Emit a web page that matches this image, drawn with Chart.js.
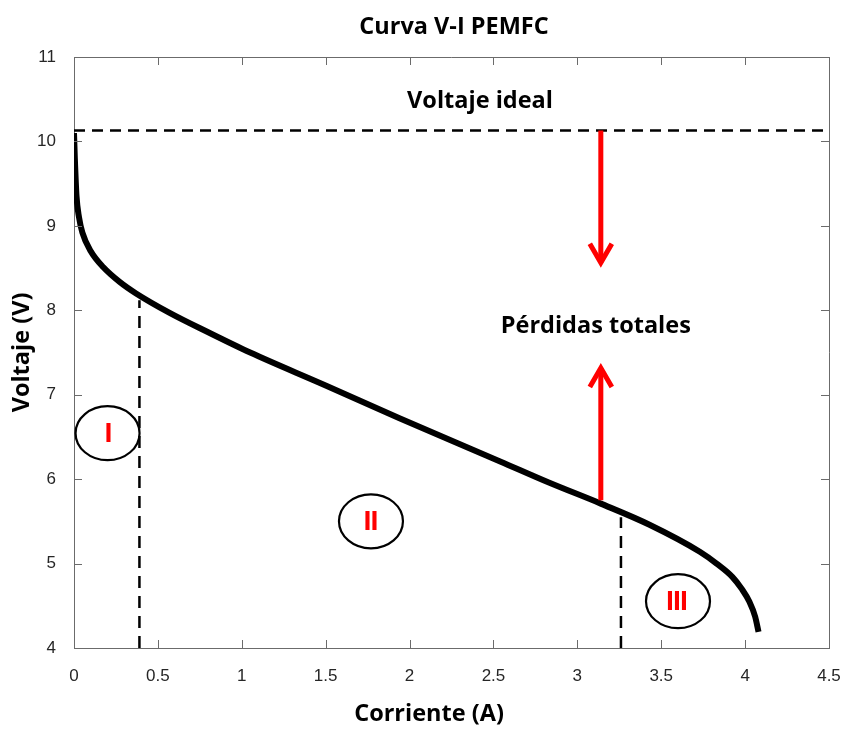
<!DOCTYPE html>
<html>
<head>
<meta charset="utf-8">
<script src="https://cdn.jsdelivr.net/npm/chart.js@4.4.1/dist/chart.umd.min.js"></script>
<style>
  html, body { margin: 0; padding: 0; background: #fff; }
  canvas { display: block; }
</style>
</head>
<body>
<canvas id="grafico-vi" width="846" height="729"></canvas>
<script>
// Curva V-I de la PEMFC
const corriente = [0, 0.005, 0.015, 0.03, 0.05, 0.1, 0.175, 0.27, 0.37, 0.57, 0.8, 1.05, 1.5, 1.94, 2.54, 2.83, 3.14, 3.43, 3.73, 3.83, 3.925, 3.98, 4.025, 4.06, 4.08];
const voltaje   = [10.1, 9.8, 9.35, 9.1, 8.92, 8.7, 8.51, 8.34, 8.2, 7.97, 7.74, 7.5, 7.11, 6.72, 6.21, 5.96, 5.71, 5.46, 5.14, 5.0, 4.84, 4.7, 4.55, 4.37, 4.19];

const ticksX = [0, 0.5, 1, 1.5, 2, 2.5, 3, 3.5, 4, 4.5];
const ticksY = [4, 5, 6, 7, 8, 9, 10, 11];

const voltajeIdeal = 10.13;
// limites de las regiones I / II / III
const limiteX = [0.39, 3.26];
const limiteTope = [8.12, 5.55];

// flechas de perdidas totales
const flechaX = 3.14;
const flechaBajaFin = 8.54;
const flechaSubeInicio = 5.75;
const flechaSubeFin = 7.34;

// regiones marcadas con elipses
const regiones = ['I', 'II', 'III'];
const regionX = [0.20, 1.77, 3.60];
const regionY = [6.545, 5.50, 4.555];

const textos = ['Voltaje ideal', 'Pérdidas totales'];
const textoX = [2.42, 3.11];
const textoY = [10.48, 7.81];

const puntos = corriente.map((c, i) => ({ x: c, y: voltaje[i] }));

function linea(x0, y0, x1, y1) {
    return [{ x: x0, y: y0 }, { x: x1, y: y1 }];
}

const fuenteTexto = '"Open Sans", "Noto Sans", sans-serif';

const anotaciones = {
    id: 'anotaciones',
    afterDraw(chart) {
        const { ctx, chartArea: a, scales: { x, y } } = chart;
        ctx.save();

        // caja y marcas hacia dentro (estilo MATLAB)
        ctx.strokeStyle = '#6b6b6b';
        ctx.lineWidth = 1;
        ctx.beginPath();
        ctx.moveTo(a.left, a.top + 0.5);
        ctx.lineTo(a.right + 0.5, a.top + 0.5);
        ctx.lineTo(a.right + 0.5, a.bottom);
        ctx.stroke();
        ctx.beginPath();
        ticksX.forEach(v => {
            const px = Math.round(x.getPixelForValue(v)) + 0.5;
            ctx.moveTo(px, a.bottom); ctx.lineTo(px, a.bottom - 8);
            ctx.moveTo(px, a.top); ctx.lineTo(px, a.top + 8);
        });
        ticksY.forEach(v => {
            const py = Math.round(y.getPixelForValue(v)) + 0.5;
            ctx.moveTo(a.left, py); ctx.lineTo(a.left + 8, py);
            ctx.moveTo(a.right, py); ctx.lineTo(a.right - 8, py);
        });
        ctx.stroke();

        // flechas rojas
        const fx = x.getPixelForValue(flechaX);
        const yIdeal = y.getPixelForValue(voltajeIdeal);
        const yBaja = y.getPixelForValue(flechaBajaFin);
        const ySube0 = y.getPixelForValue(flechaSubeInicio);
        const ySube1 = y.getPixelForValue(flechaSubeFin);
        ctx.strokeStyle = '#ff0000';
        ctx.lineWidth = 5;
        ctx.lineCap = 'butt';
        ctx.beginPath();
        ctx.moveTo(fx, yIdeal); ctx.lineTo(fx, yBaja - 2);
        ctx.moveTo(fx, ySube0); ctx.lineTo(fx, ySube1 + 2);
        ctx.stroke();
        ctx.lineJoin = 'miter';
        ctx.beginPath();
        ctx.moveTo(fx - 11, yBaja - 21); ctx.lineTo(fx, yBaja - 2); ctx.lineTo(fx + 11, yBaja - 21);
        ctx.moveTo(fx - 11, ySube1 + 21); ctx.lineTo(fx, ySube1 + 2); ctx.lineTo(fx + 11, ySube1 + 21);
        ctx.stroke();

        // elipses con numeros romanos
        regiones.forEach((r, i) => {
            const cx = x.getPixelForValue(regionX[i]);
            const cy = y.getPixelForValue(regionY[i]);
            ctx.strokeStyle = '#000';
            ctx.lineWidth = 2.2;
            ctx.beginPath();
            ctx.ellipse(cx, cy, 32, 27, 0, 0, Math.PI * 2);
            ctx.stroke();
            ctx.fillStyle = '#ff0000';
            ctx.font = 'bold 27px ' + fuenteTexto;
            ctx.letterSpacing = '-2px';
            ctx.textAlign = 'center';
            ctx.textBaseline = 'middle';
            ctx.fillText(r, cx - (r.length - 1), cy + 1);
            ctx.letterSpacing = '0px';
        });

        // textos
        ctx.fillStyle = '#000';
        ctx.font = 'bold 23.5px ' + fuenteTexto;
        ctx.textAlign = 'center';
        ctx.textBaseline = 'middle';
        textos.forEach((t, i) => {
            ctx.fillText(t, x.getPixelForValue(textoX[i]), y.getPixelForValue(textoY[i]));
        });

        // titulo y etiqueta del eje x
        ctx.fillText('Curva V-I PEMFC', 454, 27);
        ctx.fillText('Corriente (A)', 429, 714);
        ctx.restore();
    }
};

const ctx = document.getElementById('grafico-vi').getContext('2d');
const grafico = new Chart(ctx, {
    type: 'scatter',
    data: {
        datasets: [
            {
                label: 'Curva V-I',
                data: puntos,
                showLine: true,
                borderColor: '#000',
                borderWidth: 6,
                pointRadius: 0,
                cubicInterpolationMode: 'monotone',
                borderCapStyle: 'butt'
            },
            {
                label: 'Voltaje ideal',
                data: linea(0, voltajeIdeal, 4.5, voltajeIdeal),
                showLine: true,
                borderColor: '#000',
                borderWidth: 2.5,
                borderDash: [11, 7],
                pointRadius: 0
            },
            {
                label: 'Limite I-II',
                data: linea(limiteX[0], 4, limiteX[0], limiteTope[0]),
                showLine: true,
                borderColor: '#000',
                borderWidth: 2.5,
                borderDash: [12, 8],
                pointRadius: 0
            },
            {
                label: 'Limite II-III',
                data: linea(limiteX[1], 4, limiteX[1], limiteTope[1]),
                showLine: true,
                borderColor: '#000',
                borderWidth: 2.5,
                borderDash: [12, 8],
                pointRadius: 0
            }
        ]
    },
    options: {
        responsive: false,
        animation: false,
        layout: { padding: { top: 57, right: 17, left: 0, bottom: 0 } },
        plugins: {
            legend: { display: false },
            tooltip: { enabled: false }
        },
        scales: {
            x: {
                type: 'linear',
                min: 0,
                max: 4.5,
                afterBuildTicks: s => { s.ticks = ticksX.map(v => ({ value: v })); },
                afterFit: s => { s.height = 81; s.paddingLeft = 0; s.paddingRight = 0; },
                grid: { display: false },
                border: { color: '#6b6b6b', width: 1 },
                ticks: {
                    color: '#262626',
                    padding: 10,
                    maxRotation: 0,
                    font: { family: '"Liberation Sans", Arial, sans-serif', size: 17 },
                    callback: v => String(v)
                }
            },
            y: {
                type: 'linear',
                min: 4,
                max: 11,
                afterBuildTicks: s => { s.ticks = ticksY.map(v => ({ value: v })); },
                afterFit: s => { s.width = 74; s.paddingTop = 0; s.paddingBottom = 0; },
                grid: { display: false },
                border: { color: '#6b6b6b', width: 1 },
                title: {
                    display: true,
                    text: 'Voltaje (V)',
                    color: '#000',
                    padding: { top: 8, bottom: 0 },
                    font: { family: fuenteTexto, size: 23.5, weight: 'bold' }
                },
                ticks: {
                    color: '#262626',
                    padding: 10,
                    font: { family: '"Liberation Sans", Arial, sans-serif', size: 17 },
                    callback: v => String(v)
                }
            }
        }
    },
    plugins: [anotaciones]
});
</script>
</body>
</html>
